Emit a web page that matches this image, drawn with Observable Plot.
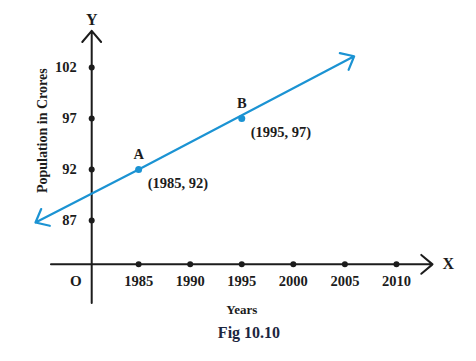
<!DOCTYPE html>
<html>
<head>
<meta charset="utf-8">
<script src="https://cdn.jsdelivr.net/npm/d3@7"></script>
<script src="https://cdn.jsdelivr.net/npm/@observablehq/plot@0.6"></script>
<style>
  html, body { margin: 0; padding: 0; background: #fff; }
  #chart svg { display: block; }
</style>
</head>
<body>
<div id="chart"></div>
<script>
// ---- data ----
const xTicks = [1985, 1990, 1995, 2000, 2005, 2010];
const yTicks = [87, 92, 97, 102];
const pointNames = ["A", "B"];
const pointYears = [1985, 1995];
const pointValues = [92, 97];
const pointLabels = ["(1985, 92)", "(1995, 97)"];
const lineEndYears = [1975, 2005.9];
const lineEndValues = [86.8, 103.1];

// broken-axis origin (where the drawn axes cross)
const originYear = 1980.45;
const originValue = 82.7;

const font = "'Liberation Serif', 'Times New Roman', serif";
const blue = "#1b93d3";
const ink = "#1c1c1c";

const points = pointNames.map((n, i) => ({name: n, year: pointYears[i], value: pointValues[i], label: pointLabels[i]}));
const lineArrows = lineEndYears.map((y, i) => ({x1: pointYears[0], y1: pointValues[0], x2: y, y2: lineEndValues[i]}));

const chart = Plot.plot({
  width: 476,
  height: 361,
  marginLeft: 35,
  marginRight: 28.5,
  marginTop: 16,
  marginBottom: 69.6,
  x: {domain: [1975, 2015], axis: null},
  y: {domain: [80, 107], axis: null},
  style: {background: "#fff"},
  marks: [
    // axes with arrowheads
    Plot.arrow([{x1: 1976.5, x2: 2013.5}], {x1: "x1", x2: "x2", y1: originValue, y2: originValue,
      stroke: ink, strokeWidth: 2, headLength: 11, headAngle: 80}),
    Plot.arrow([{y1: 78.9, y2: 105.6}], {x1: originYear, x2: originYear, y1: "y1", y2: "y2",
      stroke: ink, strokeWidth: 2, headLength: 11, headAngle: 80}),
    // tick dots
    Plot.dot(xTicks, {x: d => d, y: originValue, r: 3, fill: ink, stroke: null}),
    Plot.dot(yTicks, {x: originYear, y: d => d, r: 3, fill: ink, stroke: null}),
    // tick labels
    Plot.text(xTicks, {x: d => d, y: originValue, text: d => String(d), dy: 17,
      fontFamily: font, fontWeight: "bold", fontSize: 14.5, fill: ink}),
    Plot.text(yTicks, {x: originYear, y: d => d, text: d => String(d), dx: -15, textAnchor: "end",
      fontFamily: font, fontWeight: "bold", fontSize: 14.5, fill: ink}),
    // axis letters
    Plot.text(["X"], {x: 2013.5, y: originValue, text: d => d, dx: 10, textAnchor: "start",
      fontFamily: font, fontWeight: "bold", fontSize: 16, fill: ink}),
    Plot.text(["Y"], {x: originYear, y: 105.6, text: d => d, dy: -11,
      fontFamily: font, fontWeight: "bold", fontSize: 16, fill: ink}),
    Plot.text(["O"], {x: originYear, y: originValue, text: d => d, dx: -16, dy: 17,
      fontFamily: font, fontWeight: "bold", fontSize: 15, fill: ink}),
    // axis titles
    Plot.text(["Population in Crores"], {x: originYear, y: 95.8, text: d => d, dx: -49, rotate: -90,
      fontFamily: font, fontWeight: "bold", fontSize: 14, fill: ink}),
    Plot.text(["Years"], {x: 1995, y: originValue, text: d => d, dy: 45,
      fontFamily: font, fontWeight: "bold", fontSize: 13, fill: ink}),
    Plot.text(["Fig 10.10"], {x: 1995.7, y: originValue, text: d => d, dy: 69,
      fontFamily: font, fontWeight: "bold", fontSize: 16, fill: "#1d2640"}),
    // the line through A and B
    Plot.arrow(lineArrows, {x1: "x1", y1: "y1", x2: "x2", y2: "y2",
      stroke: blue, strokeWidth: 2.2, headLength: 10, headAngle: 80}),
    Plot.dot(points, {x: "year", y: "value", r: 3.5, fill: blue, stroke: null}),
    Plot.text(points, {x: "year", y: "value", text: "name", dy: -15,
      fontFamily: font, fontWeight: "bold", fontSize: 14.5, fill: ink}),
    Plot.text(points, {x: "year", y: "value", text: "label", dx: 9, dy: 14, textAnchor: "start",
      fontFamily: font, fontWeight: "bold", fontSize: 14.5, fill: ink})
  ]
});
document.getElementById("chart").appendChild(chart);
</script>
</body>
</html>
